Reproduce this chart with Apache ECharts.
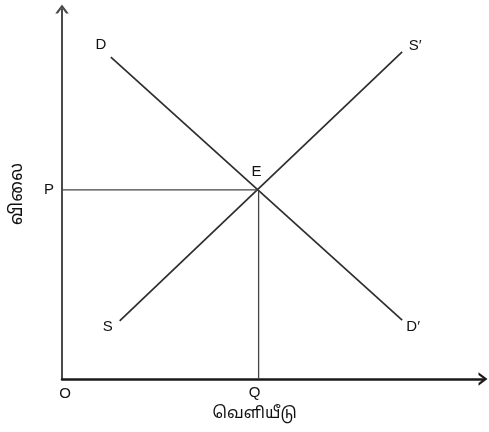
<!DOCTYPE html>
<html>
<head>
<meta charset="utf-8">
<script src="https://cdn.jsdelivr.net/npm/echarts@6/dist/echarts.min.js"></script>
<style>
  html, body { margin: 0; padding: 0; background: #fff; }
  #chart { width: 489px; height: 432px; }
</style>
</head>
<body>
<div id="chart"></div>
<script>
// demand and supply curves (axis units 0..10)
let demandLine = [[1.16, 8.70], [8.08, 1.59]];
let supplyLine = [[1.37, 1.57], [8.08, 8.84]];
// equilibrium point E
let equilibrium = [4.67, 5.11];
let curveNames = ["D", "D′", "S", "S′"];
let priceLabel = "P";
let qtyLabel = "Q";
let originLabel = "O";
let yName = "விலை";
let xName = "வெளியீடு";

let font = "Arial, 'Liberation Sans', 'Noto Sans Tamil', 'Noto Sans', sans-serif";
let txt = { color: "#111", fontSize: 15, fontFamily: font };
// open chevron arrow head, pointing up
let arrowHead = "path://M0,8 L6,0 L12,8 L9.6,8 L6,3.2 L2.4,8 Z";

let chart = echarts.init(document.getElementById("chart"));

let option = {
  animation: false,
  grid: { left: 61, right: 6, top: 9, bottom: 53 },
  xAxis: {
    type: "value",
    min: 0,
    max: 10,
    splitLine: { show: false },
    axisTick: { show: false },
    axisLabel: { show: false },
    axisLine: {
      show: true,
      symbol: ["none", arrowHead],
      symbolSize: [14, 9],
      lineStyle: { color: "#1a1a1a", width: 2.5 },
    },
  },
  yAxis: {
    type: "value",
    min: 0,
    max: 10,
    name: yName,
    nameLocation: "middle",
    nameGap: 36,
    nameRotate: 90,
    nameTextStyle: { color: "#111", fontSize: 18, fontFamily: font },
    splitLine: { show: false },
    axisTick: { show: false },
    axisLabel: { show: false },
    axisLine: {
      show: true,
      symbol: ["none", arrowHead],
      symbolSize: [14, 9],
      lineStyle: { color: "#4a4a4a", width: 2 },
    },
  },
  series: [
    {
      // demand D -> D'
      type: "line",
      data: demandLine,
      symbol: "none",
      lineStyle: { color: "#2e2e2e", width: 1.7 },
      markPoint: {
        symbol: "circle",
        symbolSize: 0,
        data: [
          { coord: demandLine[0], label: { show: true, formatter: curveNames[0], offset: [-10, -12], ...txt } },
          { coord: demandLine[1], label: { show: true, formatter: curveNames[1], offset: [11, 7], ...txt } },
        ],
      },
    },
    {
      // supply S -> S'
      type: "line",
      data: supplyLine,
      symbol: "none",
      lineStyle: { color: "#2e2e2e", width: 1.7 },
      markPoint: {
        symbol: "circle",
        symbolSize: 0,
        data: [
          { coord: supplyLine[0], label: { show: true, formatter: curveNames[2], offset: [-12, 6], ...txt } },
          { coord: supplyLine[1], label: { show: true, formatter: curveNames[3], offset: [13, -6], ...txt } },
        ],
      },
    },
    {
      // price guide line P -> E
      type: "line",
      data: [[0, equilibrium[1]], equilibrium],
      symbol: "none",
      lineStyle: { color: "#444", width: 1.3 },
      markPoint: {
        symbol: "circle",
        symbolSize: 0,
        data: [
          { coord: [0, equilibrium[1]], label: { show: true, formatter: priceLabel, offset: [-13, 0], ...txt } },
          { coord: equilibrium, label: { show: true, formatter: "E", offset: [-2, -18], ...txt } },
        ],
      },
    },
    {
      // quantity guide line Q -> E
      type: "line",
      data: [[equilibrium[0], 0], equilibrium],
      symbol: "none",
      lineStyle: { color: "#444", width: 1.3 },
      markPoint: {
        symbol: "circle",
        symbolSize: 0,
        data: [
          {
            coord: [equilibrium[0], 0],
            label: {
              show: true,
              formatter: "{q|" + qtyLabel + "}\n{n|" + xName + "}",
              offset: [-4, 25],
              rich: {
                q: { ...txt, lineHeight: 20, align: "center" },
                n: { ...txt, fontSize: 16, lineHeight: 22, align: "center" },
              },
            },
          },
          { coord: [0, 0], label: { show: true, formatter: originLabel, offset: [3, 15], ...txt } },
        ],
      },
    },
  ],
};

chart.setOption(option);
</script>
</body>
</html>
